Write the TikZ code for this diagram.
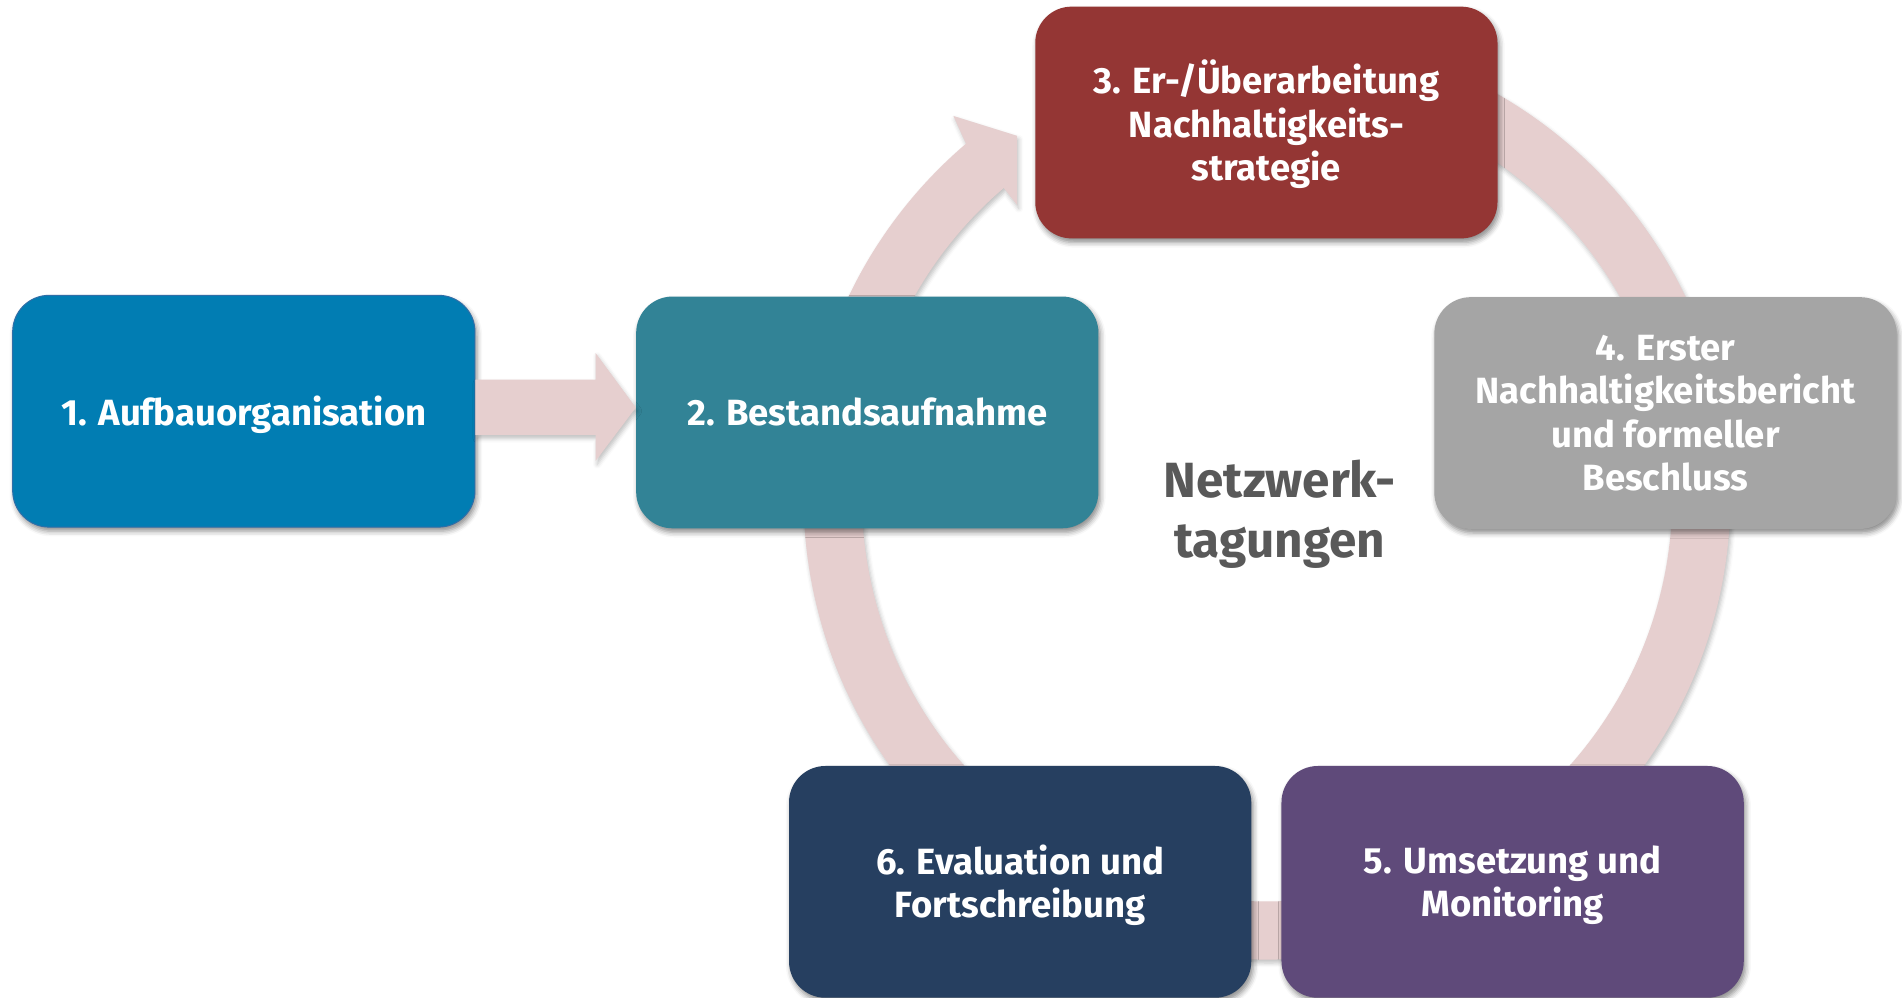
\documentclass[tikz,border=0pt]{standalone}
\usepackage{fontspec}
\setmainfont{Fira Sans}
\usetikzlibrary{calc,shadows.blur}
\definecolor{c1}{HTML}{017DB3}
\definecolor{c1e}{HTML}{2F6EA8}
\definecolor{c2}{HTML}{328396}
\definecolor{c3}{HTML}{943634}
\definecolor{c4}{HTML}{A5A5A5}
\definecolor{c5}{HTML}{5F4A7A}
\definecolor{c6}{HTML}{263F60}
\definecolor{ringc}{HTML}{E6CFCF}
\definecolor{gtext}{HTML}{595959}
\begin{document}
\begin{tikzpicture}[x=0.025cm,y=-0.025cm,
  box/.style={rounded corners=0.75cm, minimum width=9.525cm, minimum height=4.775cm,
    inner sep=0pt,
    blur shadow={shadow xshift=1.2pt, shadow yshift=-2.4pt, shadow blur radius=3pt, shadow opacity=45}},
  lbl/.style={text=white, align=center, inner sep=0pt,
    font=\bfseries\fontsize{21.4}{25.4}\selectfont},
  softshadow/.style={blur shadow={shadow xshift=1pt, shadow yshift=-2pt, shadow blur radius=2.5pt, shadow opacity=25}}
]
\useasboundingbox (0,0) rectangle (1568,822);
\clip (0,0) rectangle (1568,822);
\coordinate (C) at (1044.5,409);
% ring with arrow head
\fill[ringc, softshadow] ($(C)+(130.5:9.55cm)$) arc[start angle=130.5, end angle=460, radius=9.55cm]
  -- ($(C)+(460:8.35cm)$) arc[start angle=460, end angle=130.5, radius=8.35cm]
  -- (838.5,169) -- (838.5,112) -- (786,95.6) -- cycle;
% boxes
\node[box, fill=c1, draw=c1e, line width=0.6pt] (b1) at (201,339) {};
\node[box, fill=c2] (b2) at (715,340) {};
\node[box, fill=c3] (b3) at (1044,101) {};
\node[box, fill=c4] (b4) at (1373,340.5) {};
\node[box, fill=c5] (b5) at (1247,727) {};
\node[box, fill=c6] (b6) at (841,727) {};
% labels
\node[lbl] (t1) at ([yshift=-0.075cm]b1.center) {1. Aufbauorganisation};
\node[lbl] (t2) at (b2.center) {2. Bestandsaufnahme};
\node[lbl] (t3) at ([yshift=-0.04cm]b3.center) {3. Er-/Überarbeitung\\Nachhaltigkeits-\\strategie};
\node[lbl] (t4) at (b4.center) {4. Erster\\Nachhaltigkeitsbericht\\und formeller\\Beschluss};
\node[lbl] (t5) at ([yshift=-0.075cm]b5.center) {5. Umsetzung und\\Monitoring};
\node[lbl] (t6) at ([yshift=-0.075cm]b6.center) {6. Evaluation und\\Fortschreibung};
\node[text=gtext, align=center, inner sep=0pt, font=\bfseries\fontsize{29}{35}\selectfont] (nt) at (1055,424) {Netzwerk-\\tagungen};
% arrow 1 -> 2
\fill[ringc, softshadow] (b1.east |- 0,313) -- (491,313) -- (491,291) -- (b2.west |- 0,336)
  -- (491,380) -- (491,358.6) -- (b1.east |- 0,358.6) -- cycle;
\end{tikzpicture}
\end{document}
